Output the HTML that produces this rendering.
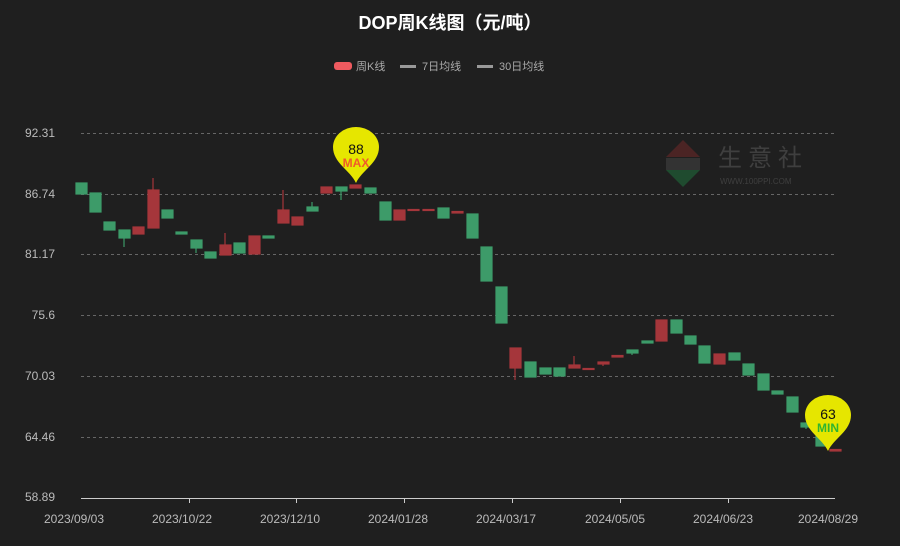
<!DOCTYPE html>
<html><head><meta charset="utf-8"><style>
html,body{margin:0;padding:0;background:#1f1f1f;}
svg{display:block;font-family:"Liberation Sans","Noto Sans CJK SC",sans-serif;}
</style></head><body>
<svg width="900" height="546" viewBox="0 0 900 546" xmlns="http://www.w3.org/2000/svg">
<rect width="900" height="546" fill="#1f1f1f"/>
<text x="450" y="29" fill="#fff" font-size="18" font-weight="bold" text-anchor="middle" font-family="'Liberation Sans','Noto Sans CJK SC',sans-serif">DOP周K线图（元/吨）</text>
<rect x="334" y="62" width="18" height="8" rx="3" fill="#ee5a5f"/>
<text x="356" y="70" fill="#aaa" font-size="11">周K线</text>
<rect x="400" y="65" width="16" height="3" fill="#999"/>
<text x="422" y="70" fill="#aaa" font-size="11">7日均线</text>
<rect x="477" y="65" width="16" height="3" fill="#999"/>
<text x="499" y="70" fill="#aaa" font-size="11">30日均线</text>
<g opacity="0.75">
<polygon points="683,140 700,157 666,157" fill="#5a2626"/>
<polygon points="666,170 700,170 683,187" fill="#1f5a35"/>
<rect x="666" y="158" width="34" height="12" fill="#3a3a3a"/>
<text x="718" y="166" fill="#4a4a4a" font-size="24" font-family="'Noto Sans CJK SC',sans-serif" letter-spacing="6">生意社</text>
<text x="720" y="184" fill="#4a4a4a" font-size="8">WWW.100PPI.COM</text>
</g>
<g stroke="#666" stroke-dasharray="3,3" stroke-width="1">
<line x1="81" y1="133.5" x2="835" y2="133.5"/>
<line x1="81" y1="194.5" x2="835" y2="194.5"/>
<line x1="81" y1="254.5" x2="835" y2="254.5"/>
<line x1="81" y1="315.5" x2="835" y2="315.5"/>
<line x1="81" y1="376.5" x2="835" y2="376.5"/>
<line x1="81" y1="437.5" x2="835" y2="437.5"/>
</g>
<g fill="#bbb" font-size="12" text-anchor="end">
<text x="55" y="137">92.31</text><text x="55" y="198">86.74</text><text x="55" y="258">81.17</text>
<text x="55" y="319">75.6</text><text x="55" y="380">70.03</text><text x="55" y="441">64.46</text><text x="55" y="501">58.89</text>
</g>
<line x1="81" y1="498.5" x2="835" y2="498.5" stroke="#ccc"/>
<g stroke="#ccc"><line x1="189.5" y1="498" x2="189.5" y2="503"/><line x1="296.5" y1="498" x2="296.5" y2="503"/><line x1="404.5" y1="498" x2="404.5" y2="503"/><line x1="512.5" y1="498" x2="512.5" y2="503"/><line x1="620.5" y1="498" x2="620.5" y2="503"/><line x1="728.5" y1="498" x2="728.5" y2="503"/></g>
<g fill="#bbb" font-size="12" text-anchor="middle">
<text x="74" y="523">2023/09/03</text><text x="182" y="523">2023/10/22</text><text x="290" y="523">2023/12/10</text><text x="398" y="523">2024/01/28</text>
<text x="506" y="523">2024/03/17</text><text x="615" y="523">2024/05/05</text><text x="723" y="523">2024/06/23</text><text x="828" y="523">2024/08/29</text>
</g>
<g stroke-width="1.2">
<g fill="#3d9b69" stroke="#3d9b69">
<rect x="76" y="183" width="11" height="11"/>
<rect x="90" y="193" width="11" height="19"/>
<rect x="104" y="222" width="11" height="8"/>
<line x1="124" y1="230" x2="124" y2="247"/><rect x="119" y="230" width="11" height="8"/>
<rect x="162" y="210" width="11" height="8"/>
<rect x="176" y="232" width="11" height="2"/>
<line x1="196" y1="240" x2="196" y2="253"/><rect x="191" y="240" width="11" height="8"/>
<rect x="205" y="252" width="11" height="6"/>
<rect x="234" y="243" width="11" height="10"/>
<rect x="263" y="236" width="11" height="2"/>
<line x1="312" y1="202" x2="312" y2="211"/><rect x="307" y="207" width="11" height="4"/>
<line x1="341" y1="187" x2="341" y2="200"/><rect x="336" y="187" width="11" height="4"/>
<rect x="365" y="188" width="11" height="5"/>
<rect x="380" y="202" width="11" height="18"/>
<rect x="438" y="208" width="11" height="10"/>
<rect x="467" y="214" width="11" height="24"/>
<rect x="481" y="247" width="11" height="34"/>
<rect x="496" y="287" width="11" height="36"/>
<rect x="525" y="362" width="11" height="15"/>
<rect x="540" y="368" width="11" height="6"/>
<rect x="554" y="368" width="11" height="8"/>
<line x1="632" y1="350" x2="632" y2="355"/><rect x="627" y="350" width="11" height="3"/>
<rect x="642" y="341" width="11" height="2"/>
<rect x="671" y="320" width="11" height="13"/>
<rect x="685" y="336" width="11" height="8"/>
<rect x="699" y="346" width="11" height="17"/>
<rect x="729" y="353" width="11" height="7"/>
<rect x="743" y="364" width="11" height="11"/>
<rect x="758" y="374" width="11" height="16"/>
<rect x="772" y="391" width="11" height="3"/>
<rect x="787" y="397" width="11" height="15"/>
<line x1="806" y1="423" x2="806" y2="429"/><rect x="801" y="423" width="11" height="4"/>
<rect x="816" y="434" width="11" height="12"/>
</g>
<g fill="#a5363b" stroke="#a5363b">
<rect x="133" y="227" width="11" height="7"/>
<line x1="153" y1="178" x2="153" y2="190"/><rect x="148" y="190" width="11" height="38"/>
<line x1="225" y1="233" x2="225" y2="245"/><rect x="220" y="245" width="11" height="10"/>
<rect x="249" y="236" width="11" height="18"/>
<line x1="283" y1="190" x2="283" y2="210"/><rect x="278" y="210" width="11" height="13"/>
<rect x="292" y="217" width="11" height="8"/>
<rect x="321" y="187" width="11" height="6"/>
<rect x="350" y="185" width="11" height="3"/>
<rect x="394" y="210" width="11" height="10"/>
<rect x="408" y="209.5" width="11" height="1"/>
<rect x="423" y="209.5" width="11" height="1"/>
<rect x="452" y="211.5" width="11" height="1.5"/>
<line x1="515" y1="348" x2="515" y2="380"/><rect x="510" y="348" width="11" height="20"/>
<line x1="574" y1="356" x2="574" y2="365"/><rect x="569" y="365" width="11" height="3"/>
<rect x="583" y="368.5" width="11" height="1"/>
<line x1="603" y1="362" x2="603" y2="366"/><rect x="598" y="362" width="11" height="2"/>
<rect x="612" y="355.5" width="11" height="1.5"/>
<rect x="656" y="320" width="11" height="21"/>
<rect x="714" y="354" width="11" height="10"/>
<rect x="830" y="449.5" width="11" height="1.5"/>
</g>
</g>
<g>
<path d="M356,183 C350,170 333,163 333,147 A23,20 0 0 1 379,147 C379,163 362,170 356,183Z" fill="#e6e600"/>
<text x="356" y="154" font-size="14" fill="#111" text-anchor="middle">88</text>
<text x="356" y="167" font-size="12" fill="#f05a2a" text-anchor="middle" font-weight="bold">MAX</text>
<path d="M828,451 C822,438 805,431 805,415 A23,20 0 0 1 851,415 C851,431 834,438 828,451Z" fill="#e6e600"/>
<text x="828" y="419" font-size="14" fill="#111" text-anchor="middle">63</text>
<text x="828" y="432" font-size="12" fill="#2fb52f" text-anchor="middle" font-weight="bold">MIN</text>
</g>
</svg>
</body></html>
